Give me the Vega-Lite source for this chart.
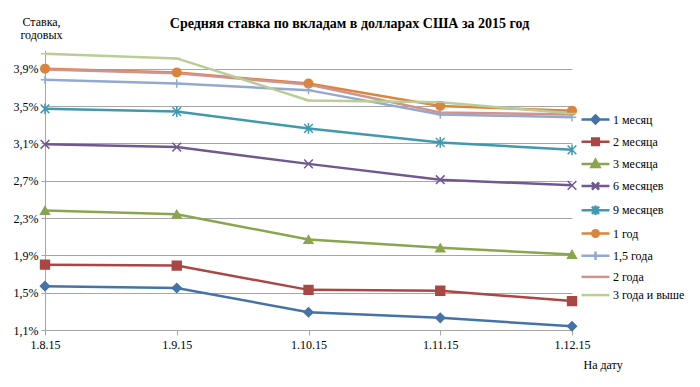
{
  "$schema": "https://vega.github.io/schema/vega-lite/v6.json",
  "width": 527,
  "height": 280,
  "autosize": "none",
  "padding": {"left": 45, "top": 50, "right": 128, "bottom": 57},
  "background": "white",
  "title": {
    "text": "Средняя ставка по вкладам в долларах США за 2015 год",
    "font": "Liberation Serif",
    "fontSize": 14,
    "fontWeight": "bold",
    "color": "black",
    "anchor": "middle",
    "dx": 41,
    "offset": 0,
    "dy": 16
  },
  "data": {
    "values": [
      {"date": "1.8.15", "series": "1 месяц", "rate": 1.57},
      {"date": "1.9.15", "series": "1 месяц", "rate": 1.55},
      {"date": "1.10.15", "series": "1 месяц", "rate": 1.29},
      {"date": "1.11.15", "series": "1 месяц", "rate": 1.23},
      {"date": "1.12.15", "series": "1 месяц", "rate": 1.14},
      {"date": "1.8.15", "series": "2 месяца", "rate": 1.80},
      {"date": "1.9.15", "series": "2 месяца", "rate": 1.79},
      {"date": "1.10.15", "series": "2 месяца", "rate": 1.53},
      {"date": "1.11.15", "series": "2 месяца", "rate": 1.52},
      {"date": "1.12.15", "series": "2 месяца", "rate": 1.41},
      {"date": "1.8.15", "series": "3 месяца", "rate": 2.38},
      {"date": "1.9.15", "series": "3 месяца", "rate": 2.34},
      {"date": "1.10.15", "series": "3 месяца", "rate": 2.07},
      {"date": "1.11.15", "series": "3 месяца", "rate": 1.98},
      {"date": "1.12.15", "series": "3 месяца", "rate": 1.91},
      {"date": "1.8.15", "series": "6 месяцев", "rate": 3.09},
      {"date": "1.9.15", "series": "6 месяцев", "rate": 3.06},
      {"date": "1.10.15", "series": "6 месяцев", "rate": 2.88},
      {"date": "1.11.15", "series": "6 месяцев", "rate": 2.71},
      {"date": "1.12.15", "series": "6 месяцев", "rate": 2.65},
      {"date": "1.8.15", "series": "9 месяцев", "rate": 3.47},
      {"date": "1.9.15", "series": "9 месяцев", "rate": 3.44},
      {"date": "1.10.15", "series": "9 месяцев", "rate": 3.26},
      {"date": "1.11.15", "series": "9 месяцев", "rate": 3.11},
      {"date": "1.12.15", "series": "9 месяцев", "rate": 3.03},
      {"date": "1.8.15", "series": "1 год", "rate": 3.90},
      {"date": "1.9.15", "series": "1 год", "rate": 3.86},
      {"date": "1.10.15", "series": "1 год", "rate": 3.74},
      {"date": "1.11.15", "series": "1 год", "rate": 3.50},
      {"date": "1.12.15", "series": "1 год", "rate": 3.45},
      {"date": "1.8.15", "series": "1,5 года", "rate": 3.78},
      {"date": "1.9.15", "series": "1,5 года", "rate": 3.74},
      {"date": "1.10.15", "series": "1,5 года", "rate": 3.67},
      {"date": "1.11.15", "series": "1,5 года", "rate": 3.41},
      {"date": "1.12.15", "series": "1,5 года", "rate": 3.38},
      {"date": "1.8.15", "series": "2 года", "rate": 3.89},
      {"date": "1.9.15", "series": "2 года", "rate": 3.85},
      {"date": "1.10.15", "series": "2 года", "rate": 3.73},
      {"date": "1.11.15", "series": "2 года", "rate": 3.43},
      {"date": "1.12.15", "series": "2 года", "rate": 3.41},
      {"date": "1.8.15", "series": "3 года и выше", "rate": 4.06},
      {"date": "1.9.15", "series": "3 года и выше", "rate": 4.01},
      {"date": "1.10.15", "series": "3 года и выше", "rate": 3.56},
      {"date": "1.11.15", "series": "3 года и выше", "rate": 3.54},
      {"date": "1.12.15", "series": "3 года и выше", "rate": 3.42}
    ]
  },
  "encoding": {
    "x": {
      "field": "date",
      "type": "ordinal",
      "sort": ["1.8.15", "1.9.15", "1.10.15", "1.11.15", "1.12.15"],
      "scale": {"type": "point", "padding": 0},
      "axis": {
        "labelAngle": 0,
        "labelFont": "Liberation Serif",
        "labelFontSize": 12,
        "labelColor": "black",
        "labelPadding": 4,
        "tickSize": 5,
        "tickColor": "#a6a6a6",
        "domainColor": "#a6a6a6",
        "grid": false,
        "title": "На дату",
        "titleFont": "Liberation Serif",
        "titleFontSize": 12,
        "titleFontWeight": "normal",
        "titleColor": "black",
        "titleAlign": "left",
        "titleBaseline": "top",
        "titleX": 538,
        "titleY": 29
      }
    },
    "y": {
      "field": "rate",
      "type": "quantitative",
      "scale": {"domain": [1.1, 4.1], "nice": false, "zero": false},
      "axis": {
        "values": [1.1, 1.5, 1.9, 2.3, 2.7, 3.1, 3.5, 3.9],
        "labelExpr": "replace(format(datum.value, '.1f'), '.', ',') + '%'",
        "labelFont": "Liberation Serif",
        "labelFontSize": 12,
        "labelColor": "black",
        "labelPadding": 3,
        "tickSize": 4,
        "tickColor": "#a6a6a6",
        "domainColor": "#a6a6a6",
        "grid": true,
        "gridColor": "#a6a6a6",
        "title": ["Ставка,", "годовых"],
        "titleFont": "Liberation Serif",
        "titleFontSize": 12,
        "titleFontWeight": "normal",
        "titleColor": "black",
        "titleAngle": 0,
        "titleAlign": "center",
        "titleBaseline": "top",
        "titleLineHeight": 13,
        "titleX": -4,
        "titleY": -34
      }
    },
    "color": {
      "field": "series",
      "type": "nominal",
      "scale": {
        "domain": ["1 месяц", "2 месяца", "3 месяца", "6 месяцев", "9 месяцев", "1 год", "1,5 года", "2 года", "3 года и выше"],
        "range": ["#4573A7", "#AA4643", "#89A54E", "#71588F", "#4198AF", "#DB843D", "#93A9CF", "#D19392", "#B9CD96"]
      },
      "legend": {
        "orient": "none",
        "legendX": 543,
        "legendY": 62,
        "title": null,
        "labelFont": "Liberation Serif",
        "labelFontSize": 12,
        "labelColor": "black",
        "labelOffset": 10,
        "symbolSize": 144,
        "symbolStrokeWidth": 2.5,
        "symbolOpacity": 1,
        "rowPadding": 4.2,
        "encode": {
          "symbols": {
            "update": {
              "shape": {"signal": "{'1 месяц': 'M-2.33,0L2.33,0M0,-0.67L0.67,0L0,0.67L-0.67,0Z', '2 месяца': 'M-2.33,0L2.33,0M-0.55,-0.55L0.55,-0.55L0.55,0.55L-0.55,0.55Z', '3 месяца': 'M-2.33,0L2.33,0M0,-0.67L0.67,0.5L-0.67,0.5Z', '6 месяцев': 'M-2.33,0L2.33,0M-0.6,-0.6L0.6,0.6M-0.6,0.6L0.6,-0.6', '9 месяцев': 'M-2.33,0L2.33,0M-0.6,-0.6L0.6,0.6M-0.6,0.6L0.6,-0.6M0,-0.8L0,0.8', '1 год': 'M-2.33,0L2.33,0M-0.55,0A0.55,0.55,0,1,1,0.55,0A0.55,0.55,0,1,1,-0.55,0Z', '1,5 года': 'M-2.33,0L2.33,0M0,-0.7L0,0.7', '2 года': 'M-2.33,0L2.33,0', '3 года и выше': 'M-2.33,0L2.33,0'}[datum.value]"},
              "fill": {"scale": "color", "field": "value"},
              "stroke": {"scale": "color", "field": "value"},
              "strokeWidth": {"value": 2.5},
              "opacity": {"value": 1}
            }
          }
        }
      }
    }
  },
  "layer": [
    {
      "mark": {"type": "line", "strokeWidth": 2.5}
    },
    {
      "transform": [{"filter": "datum.series !== '2 года'"}],
      "mark": {"type": "point", "filled": true, "opacity": 1, "strokeWidth": 1.5},
      "encoding": {
        "shape": {
          "field": "series",
          "type": "nominal",
          "scale": {
            "domain": ["1 месяц", "2 месяца", "3 месяца", "6 месяцев", "9 месяцев", "1 год", "1,5 года", "3 года и выше"],
            "range": ["diamond", "square", "triangle-up", "M-1,-1L1,1M-1,1L1,-1", "M-1,-1L1,1M-1,1L1,-1M0,-1.25L0,1.25", "circle", "M0,-1L0,1M-1,0L1,0", "M-1,0L1,0"]
          },
          "legend": null
        },
        "stroke": {
          "field": "series",
          "type": "nominal",
          "scale": {
            "domain": ["1 месяц", "2 месяца", "3 месяца", "6 месяцев", "9 месяцев", "1 год", "1,5 года", "3 года и выше"],
            "range": ["#4573A7", "#AA4643", "#89A54E", "#71588F", "#4198AF", "#DB843D", "#93A9CF", "#B9CD96"]
          },
          "legend": null
        },
        "size": {
          "field": "series",
          "type": "ordinal",
          "scale": {
            "domain": ["1 месяц", "2 месяца", "3 месяца", "6 месяцев", "9 месяцев", "1 год", "1,5 года", "3 года и выше"],
            "range": [80, 70, 90, 100, 110, 120, 90, 100]
          },
          "legend": null
        }
      }
    }
  ],
  "config": {
    "view": {"stroke": null},
    "font": "Liberation Serif"
  }
}
